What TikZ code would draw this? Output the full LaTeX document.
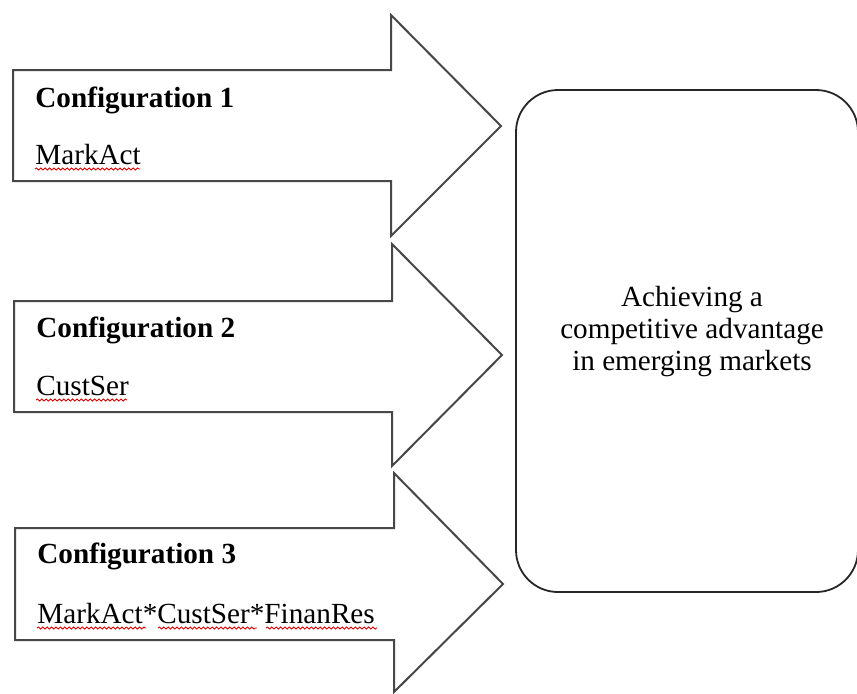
\documentclass[tikz,border=0pt]{standalone}
\usepackage{fontspec}
\setmainfont{Liberation Serif}
\usetikzlibrary{decorations.pathmorphing}
\begin{document}
\begin{tikzpicture}[x=0.5pt,y=-0.5pt,
  bigarrow/.style={draw=black!72,line width=1pt,line join=miter,fill=white},
  goalbox/.style={draw=black!85,line width=0.9pt,rounded corners=21pt},
  cfgtitle/.style={anchor=base west,inner sep=0pt,font=\fontsize{14.6}{16}\selectfont\bfseries},
  cfgtext/.style={anchor=base west,inner sep=0pt,font=\fontsize{14.6}{16}\selectfont},
  goaltext/.style={align=center,inner sep=0pt,font=\fontsize{14.6}{16}\selectfont},
  squig/.style={draw=red!85!black,line width=0.45pt,decorate,decoration={snake,amplitude=0.5pt,segment length=2.2pt}}]
\useasboundingbox (0,0) rectangle (857,693);
\fill[white] (0,0) rectangle (857,693);

% goal box
\draw[goalbox] (516,90) rectangle (858,592);
\node[goaltext] (goal) at (692,332) {Achieving a\\competitive advantage\\in emerging markets};

% arrows
\draw[bigarrow] (13,70) -- (391,70) -- (391,15) -- (501,126) -- (391,236) -- (391,181) -- (13,181) -- cycle;
\draw[bigarrow] (14,301) -- (392,301) -- (392,244) -- (502,355) -- (392,466) -- (392,412) -- (14,412) -- cycle;
\draw[bigarrow] (15,528) -- (394,528) -- (394,473) -- (503,584) -- (394,692) -- (394,640) -- (15,640) -- cycle;

% texts
\node[cfgtitle] (c1) at (35,107) {Configuration 1};
\node[cfgtext] (t1) at (35,164) {MarkAct};
\node[cfgtitle] (c2) at (36,337) {Configuration 2};
\node[cfgtext] (t2) at (36,395) {CustSer};
\node[cfgtitle] (c3) at (37,563) {Configuration 3};
\node[cfgtext] (t3) at (37,623) {MarkAct*CustSer*FinanRes};

% spell-check squiggles
\draw[squig] (35,169) -- (140,169);
\draw[squig] (36,400) -- (127,400);
\draw[squig] (37,628) -- (146,628);
\draw[squig] (158,628) -- (257,628);
\draw[squig] (266,628) -- (377,628);
\end{tikzpicture}
\end{document}
